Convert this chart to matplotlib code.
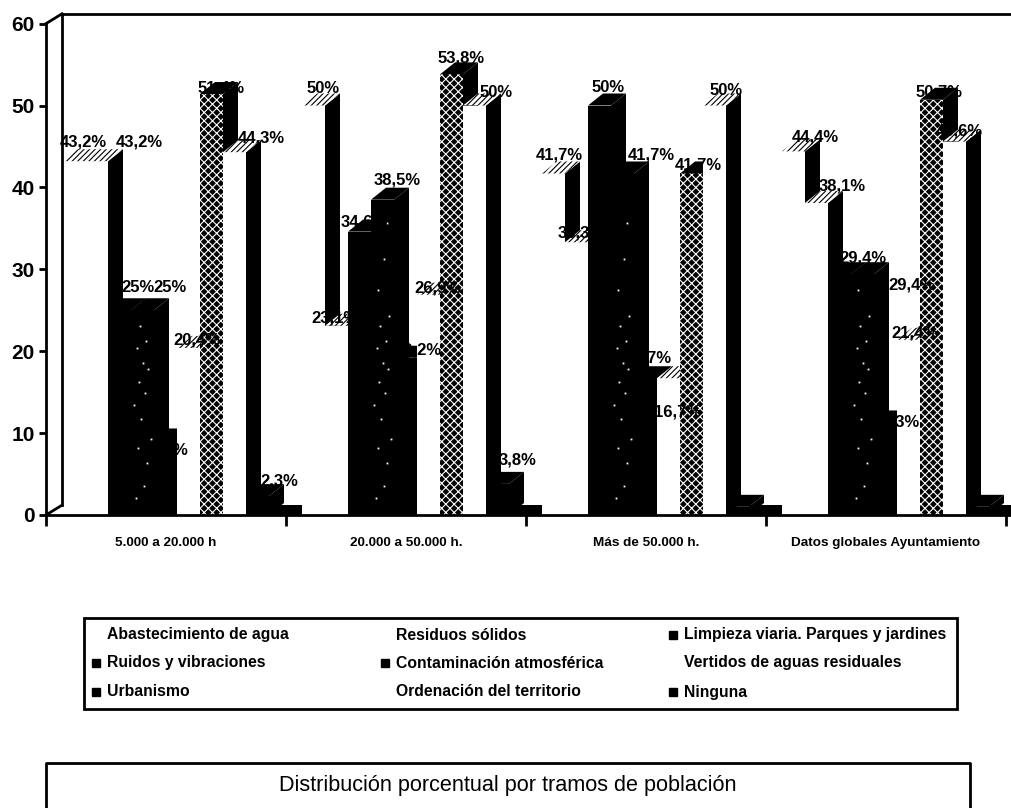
import matplotlib
matplotlib.use('Agg')
import matplotlib.pyplot as plt
from matplotlib.patches import Polygon, Rectangle

plt.rcParams['font.family'] = ['Liberation Sans', 'DejaVu Sans']
plt.rcParams['hatch.linewidth'] = 0.8

# data
tramos = ['5.000 a 20.000 h', '20.000 a 50.000 h.', 'Más de 50.000 h.', 'Datos globales Ayuntamiento']
series = ['Abastecimiento de agua', 'Residuos sólidos', 'Limpieza viaria. Parques y jardines',
          'Ruidos y vibraciones', 'Contaminación atmosférica', 'Vertidos de aguas residuales',
          'Urbanismo', 'Ordenación del territorio', 'Ninguna']
tramo1 = [43.2, 43.2, 25, 25, 9.1, 20.4, 51.4, 44.3, 2.3]
tramo2 = [50, 23.1, 34.6, 38.5, 19.2, 26.9, 53.8, 50, 3.8]
tramo3 = [41.7, 33.3, 50, 41.7, 16.7, 16.7, 41.7, 50, 1]
tramo4 = [44.4, 38.1, 29.4, 29.4, 11.3, 21.4, 50.7, 45.6, 1]
valores = [tramo1, tramo2, tramo3, tramo4]
resto = [1.2, 1.2, 1.2, 1.2]
sin_rotulo = [(2, 8), (3, 8)]
yticks = [0, 10, 20, 30, 40, 50, 60]

# label offsets from the bar top, in pixels
desp = [
    [(10, 19), (43, 19), (18, 23), (27, 23), (4, -10), (8, 8), (10, 6), (27, 14), (22, 15)],
    [(10, 17), (-2, 8), (5, 10), (15, 20), (12, 8), (9, 7), (10, 16), (22, 13), (20, 24)],
    [(6, 18), (5, 9), (9, 18), (29, 18), (2, 20), (9, -34), (7, 8), (12, 15), (0, 0)],
    [(22, 14), (26, 17), (23, 16), (49, -11), (11, 0), (6, 7), (8, 8), (5, 11), (0, 0)],
]

# white flecks of the speckled bars: place across the bar, height
motas_x = [0.2, 0.55, 0.7, 0.3, 0.85, 0.45, 0.15, 0.6, 0.35, 0.75, 0.5, 0.25, 0.65, 0.4, 0.8, 0.3, 0.55, 0.7]
motas_y = [2.1, 3.6, 6.4, 8.2, 9.3, 11.7, 13.4, 14.9, 16.3, 17.8, 18.6, 20.4, 21.2, 23.1, 24.3, 27.5, 31.2, 35.6]

W, H = 1011, 808
SLOT = 23.0
PITCH = 240 / SLOT
X0 = 16 / SLOT
DX = 15 / SLOT
DY = 12 / 8.19

# front face: white, black, speckled, stippled
estilo = ['w', 'w', 'k', 's', 'k', 'w', 't', 'w', 'k']


def bar3d(ax, x, v, tipo, z):
    if tipo == 'w':
        front = dict(color='white')
    elif tipo == 't':
        front = dict(facecolor='black', edgecolor='white', hatch='xxxx', linewidth=0)
    else:
        front = dict(color='black')
    ax.bar(x, v, width=1, align='edge', zorder=z, **front)
    if tipo == 's':
        mx = [x + m for m, my in zip(motas_x, motas_y) if my < v - 1]
        my = [my for my in motas_y if my < v - 1]
        ax.plot(mx, my, ls='none', marker='s', ms=1.3, mew=0, color='white', zorder=z)
    side = [(x + 1, 0), (x + 1, v), (x + 1 + DX, v + DY), (x + 1 + DX, DY)]
    ax.add_patch(Polygon(side, color='black', lw=0, zorder=z, clip_on=False))
    top = [(x, v), (x + 1, v), (x + 1 + DX, v + DY), (x + DX, v + DY)]
    if tipo == 'w':
        ax.add_patch(Polygon(top, facecolor='white', edgecolor='black', hatch='//////', lw=0,
                             zorder=z, clip_on=False))
    else:
        ax.add_patch(Polygon(top, color='black', lw=0, zorder=z, clip_on=False))


fig = plt.figure(figsize=(W / 100, H / 100), dpi=100)
ax = fig.add_axes([46 / W, (H - 515) / H, 965 / W, 491.4 / H])
ax.set_xlim(0, 965 / SLOT)
ax.set_ylim(0, 60)

z = 3
for g, vals in enumerate(valores):
    x0 = X0 + g * PITCH
    for i, v in enumerate(vals):
        bar3d(ax, x0 + i, v, estilo[i], z)
        z += 1
    ax.bar(x0 + 9, resto[g], width=33 / SLOT, align='edge', color='black', zorder=z)
    z += 1

for g, vals in enumerate(valores):
    x0 = X0 + g * PITCH
    for i, v in enumerate(vals):
        if (g, i) in sin_rotulo:
            continue
        txt = f'{v:g}%'.replace('.', ',')
        ax.annotate(txt, (x0 + i + 0.5, v), xytext=desp[g][i], textcoords='offset pixels',
                    ha='center', va='center', fontsize=12, fontweight='bold', zorder=z,
                    annotation_clip=False)

# walls of the box
pared = dict(color='black', lw=2, clip_on=False, zorder=z)
ax.plot([X0, X0], [1.2, 61.2], **pared)
ax.plot([0, X0], [60, 61.2], **pared)
ax.plot([X0, 965 / SLOT], [61.2, 61.2], **pared)
ax.plot([0, X0], [0, 1.2], **pared)

for s in ['top', 'right']:
    ax.spines[s].set_visible(False)
for s in ['left', 'bottom']:
    ax.spines[s].set_linewidth(2)
    ax.spines[s].set_zorder(z)

ax.set_yticks(yticks)
ax.tick_params(axis='y', length=5, width=2, pad=3, labelsize=15)
for t in ax.get_yticklabels():
    t.set_fontweight('bold')
ax.set_xticks([g * PITCH for g in range(5)])
ax.set_xticklabels([])
ax.tick_params(axis='x', which='major', length=8, width=2)
ax.set_xticks([(g + 0.5) * PITCH for g in range(4)], minor=True)
ax.set_xticklabels(tramos, minor=True, fontsize=9.7, fontweight='bold')
ax.tick_params(axis='x', which='minor', length=0, pad=16)

# legend and title boxes, in pixels
ov = fig.add_axes([0, 0, 1, 1], zorder=10)
ov.set_xlim(0, W)
ov.set_ylim(H, 0)
ov.axis('off')
ov.patch.set_alpha(0)
ov.add_patch(Rectangle((84, 618), 873, 91, fill=False, edgecolor='black', lw=2))
ov.plot([46, 46, 970, 970], [H, 763, 763, H], color='black', lw=2)

col_x = [107, 396, 684]
fila_y = [635, 663, 692]
for k, nombre in enumerate(series):
    fila, col = k // 3, k % 3
    ov.text(col_x[col], fila_y[fila], nombre, fontsize=11.3, fontweight='bold', va='center')
    if estilo[k] != 'w':
        ov.plot(col_x[col] - 11, fila_y[fila], marker='s', ms=5.5, color='black')

ov.text(508, 785, 'Distribución porcentual por tramos de población', fontsize=15.6, ha='center', va='center')

fig.savefig('out.png', dpi=100)
